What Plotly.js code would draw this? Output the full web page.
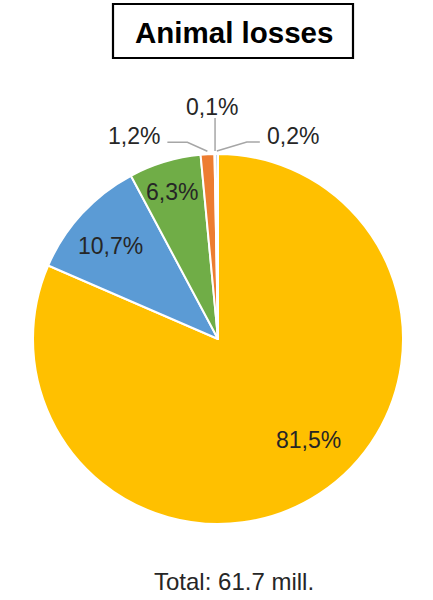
<!DOCTYPE html>
<html>
<head>
<meta charset="utf-8">
<script src="https://cdn.plot.ly/plotly-3.0.1.min.js"></script>
<style>html,body{margin:0;padding:0;background:#fff;}#chart{width:433px;height:600px;}</style>
</head>
<body>
<div id="chart"></div>
<script>
// ---- data ----
const categories = ['Category 1', 'Category 2', 'Category 3', 'Category 4', 'Category 5', 'Category 6'];
const values = [81.5, 10.7, 6.3, 1.2, 0.1, 0.2];
const titleText = 'Animal losses';
const totalLabel = 'Total: 61.7 mill.';

// ---- styles ----
const colors = ['#FFC000', '#5B9BD5', '#70AD47', '#ED7D31', '#A5A5A5', '#4472C4'];
const W = 433, H = 600;
const CX = 218, CY = 339, R = 185;
const FONT = 'Liberation Sans, Arial, sans-serif';
const LABEL_COLOR = '#262626';
const LEADER_COLOR = '#A6A6A6';
const LABEL_SIZE = 23;
// inside labels: radial fraction and pixel nudge
const insideStyle = {0: {f: 0.735, dx: 16, dy: -13}, 1: {f: 0.77, dx: -3, dy: 4}, 2: {f: 0.83, dx: -2, dy: 0}};
// outside labels: leader elbow/end offsets and label offset, relative to anchor on rim
const outsideStyle = {
  3: {pts: [[-20, -9], [-40, -9]], lab: [-73, -15]},
  4: {pts: [[0, -33]], lab: [-3, -44]},
  5: {pts: [[30, -9], [43, -9]], lab: [76, -15]}
};

const px = x => x / W;
const py = y => 1 - y / H;
const fmt = v => v.toFixed(1).replace('.', ',') + '%';

const total = values.reduce((a, b) => a + b, 0);
let cum = 0;
const annotations = [];
const shapes = [];
values.forEach((v, i) => {
  const a0 = cum / total * 360;
  cum += v;
  const a1 = cum / total * 360;
  const mid = (a0 + a1) / 2 * Math.PI / 180;
  const sx = Math.sin(mid), cy = Math.cos(mid);
  if (insideStyle[i]) {
    const s = insideStyle[i];
    const r = R * s.f;
    annotations.push({
      x: px(CX + r * sx + s.dx), y: py(CY - r * cy + s.dy), xref: 'paper', yref: 'paper',
      text: fmt(v), showarrow: false, xanchor: 'center', yanchor: 'middle',
      font: {family: FONT, size: LABEL_SIZE, color: LABEL_COLOR}
    });
  } else if (outsideStyle[i]) {
    const s = outsideStyle[i];
    const ax = CX + (R + 3) * sx, ay = CY - (R + 3) * cy;
    let path = 'M ' + px(ax) + ' ' + py(ay);
    s.pts.forEach(p => { path += ' L ' + px(ax + p[0]) + ' ' + py(ay + p[1]); });
    shapes.push({type: 'path', xref: 'paper', yref: 'paper', path: path,
      line: {color: LEADER_COLOR, width: 1.5}});
    annotations.push({
      x: px(ax + s.lab[0]), y: py(ay + s.lab[1]), xref: 'paper', yref: 'paper',
      text: fmt(v), showarrow: false, xanchor: 'center', yanchor: 'middle',
      font: {family: FONT, size: LABEL_SIZE, color: LABEL_COLOR}
    });
  }
});

// title box and title
shapes.push({type: 'rect', xref: 'paper', yref: 'paper',
  x0: px(113), x1: px(353), y0: py(58), y1: py(4), line: {color: '#000', width: 2.2}});
annotations.push({x: px(234), y: py(32), xref: 'paper', yref: 'paper', text: '<b>' + titleText + '</b>',
  showarrow: false, xanchor: 'center', yanchor: 'middle', font: {family: FONT, size: 29.5, color: '#000'}});
annotations.push({x: px(234), y: py(581), xref: 'paper', yref: 'paper', text: totalLabel,
  showarrow: false, xanchor: 'center', yanchor: 'middle', font: {family: FONT, size: 24, color: LABEL_COLOR}});

const trace = {
  type: 'pie',
  labels: categories,
  values: values,
  sort: false,
  direction: 'clockwise',
  rotation: 0,
  textinfo: 'none',
  hoverinfo: 'label+percent',
  marker: {colors: colors, line: {color: '#FFFFFF', width: 2}},
  domain: {x: [px(CX - R), px(CX + R)], y: [py(CY + R), py(CY - R)]}
};

const layout = {
  width: W, height: H,
  margin: {l: 0, r: 0, t: 0, b: 0},
  paper_bgcolor: '#fff',
  showlegend: false,
  annotations: annotations,
  shapes: shapes
};

Plotly.newPlot('chart', [trace], layout, {displayModeBar: false, staticPlot: true});
</script>
</body>
</html>
